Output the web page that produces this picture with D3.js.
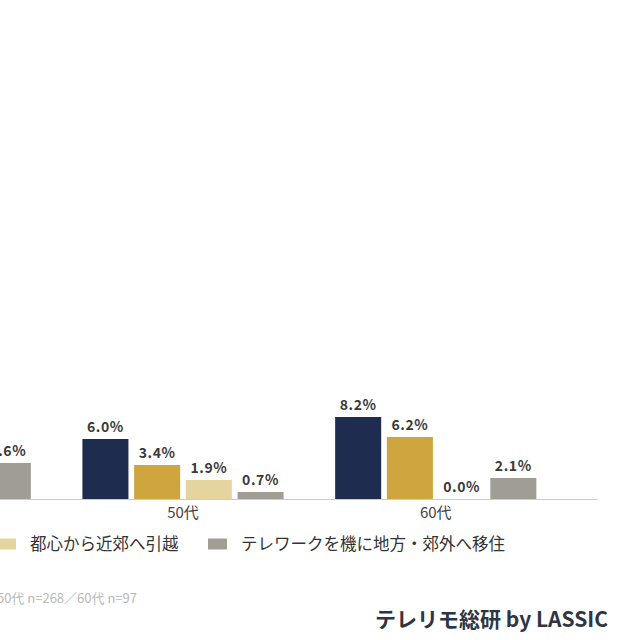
<!DOCTYPE html>
<html>
<head>
<meta charset="utf-8">
<script src="https://cdn.jsdelivr.net/npm/d3@7"></script>
<style>
  body { margin: 0; background: #fff; }
  svg { display: block; font-family: "Noto Sans CJK JP", "Noto Sans", sans-serif; }
</style>
</head>
<body>
<div id="chart"></div>
<script>
var width = 640;
var height = 640;

// data (40代 only shows its last bar)
var groups = ["40代", "50代", "60代"];
var seriesColors = ["#1e2c4f", "#cfa53e", "#e6d49f", "#a09d94"];
var navyValues = [null, 6.0, 8.2];
var goldValues = [null, 3.4, 6.2];
var beigeValues = [null, 1.9, 0.0];
var grayValues = [3.6, 0.7, 2.1];
var legendLabels = ["都心から近郊へ引越", "テレワークを機に地方・郊外へ移住"];
var legendColors = [seriesColors[2], seriesColors[3]];
var footnote = "50代 n=268／60代 n=97";
var brand = "テレリモ総研 by LASSIC";

var allSeries = [navyValues, goldValues, beigeValues, grayValues];

var svg = d3.select("#chart")
  .append("svg")
  .attr("width", width)
  .attr("height", height);

var baseY = 499;

var x0 = d3.scaleBand()
  .domain(groups)
  .range([-231, 597])
  .paddingInner(0.204)
  .paddingOuter(0.24);

var x1 = d3.scaleBand()
  .domain(d3.range(allSeries.length))
  .range([0, x0.bandwidth()])
  .paddingInner(0.11);

var y = d3.scaleLinear()
  .domain([0, 10])
  .range([baseY, baseY - 100]);

// flatten to one record per bar
var bars = [];
allSeries.forEach(function (vals, s) {
  vals.forEach(function (v, g) {
    if (v !== null) bars.push({ group: groups[g], s: s, value: v });
  });
});

svg.selectAll(".bar")
  .data(bars)
  .join("rect")
  .attr("class", "bar")
  .attr("x", function (d) { return x0(d.group) + x1(d.s); })
  .attr("y", function (d) { return y(d.value); })
  .attr("width", x1.bandwidth())
  .attr("height", function (d) { return baseY - y(d.value); })
  .attr("fill", function (d) { return seriesColors[d.s]; });

svg.selectAll(".valueLabel")
  .data(bars)
  .join("text")
  .attr("class", "valueLabel")
  .attr("x", function (d) { return x0(d.group) + x1(d.s) + x1.bandwidth() / 2; })
  .attr("y", function (d) { return y(d.value) - 7; })
  .attr("text-anchor", "middle")
  .attr("font-size", 14)
  .attr("font-weight", "bold")
  .attr("letter-spacing", 0.6)
  .attr("fill", "#3a3a3a")
  .text(function (d) { return d.value.toFixed(1) + "%"; });

// x axis
var xAxis = svg.append("g")
  .attr("transform", "translate(0," + baseY + ")")
  .call(d3.axisBottom(x0).tickSize(0).tickSizeOuter(0).tickPadding(8));
xAxis.select(".domain").attr("stroke", "#cccccc").attr("stroke-width", 1.2);
xAxis.selectAll("text")
  .attr("font-size", 15)
  .attr("fill", "#444")
  .style("font-family", "'Noto Sans CJK JP', sans-serif");

// legend (only the right half is in frame)
var legend = svg.append("g").attr("transform", "translate(0,544)");
var legendX = [-3, 208];
legendLabels.forEach(function (label, i) {
  legend.append("rect")
    .attr("x", legendX[i])
    .attr("y", -5.5)
    .attr("width", 19)
    .attr("height", 11)
    .attr("fill", legendColors[i]);
  legend.append("text")
    .attr("x", legendX[i] + 33)
    .attr("y", 0)
    .attr("dy", "0.36em")
    .attr("font-size", 16.5)
    .attr("fill", "#333")
    .text(label);
});

svg.append("text")
  .attr("x", 137)
  .attr("y", 603)
  .attr("text-anchor", "end")
  .attr("font-size", 13)
  .attr("fill", "#b8b8b8")
  .text(footnote);

svg.append("text")
  .attr("x", 608)
  .attr("y", 627)
  .attr("text-anchor", "end")
  .attr("font-size", 21)
  .attr("font-weight", 600)
  .attr("fill", "#2f3542")
  .text(brand);
</script>
</body>
</html>
